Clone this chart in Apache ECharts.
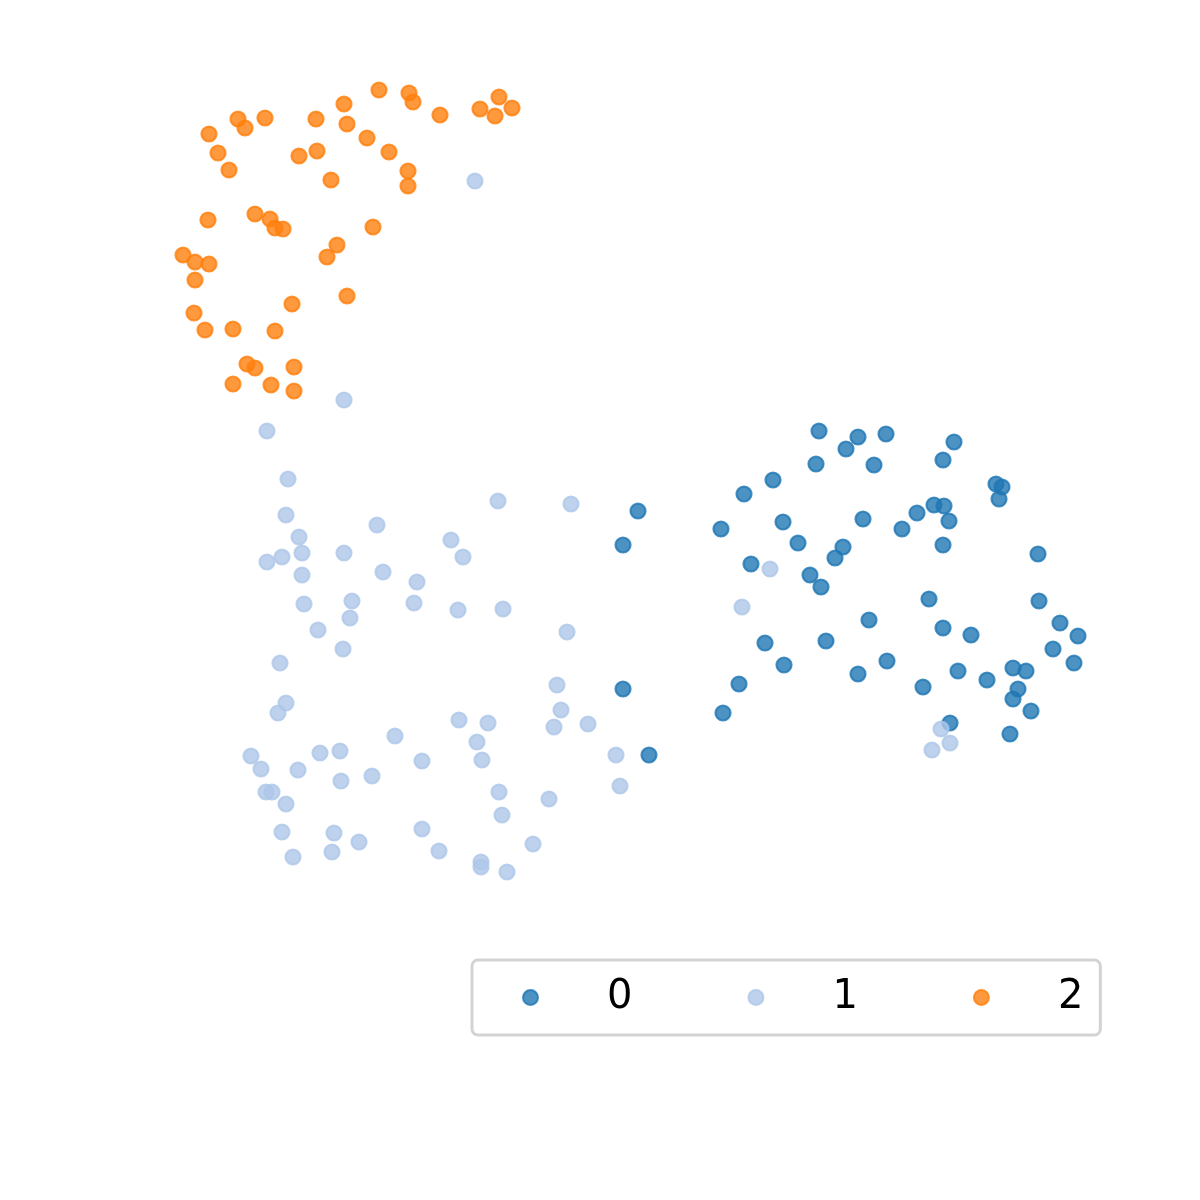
<!DOCTYPE html>
<html>
<head>
<meta charset="utf-8">
<script src="https://cdn.jsdelivr.net/npm/echarts@6/dist/echarts.min.js"></script>
<style>
  html, body { margin: 0; padding: 0; background: #fff; }
  #chart { width: 1200px; height: 1200px; }
</style>
</head>
<body>
<div id="chart"></div>
<script>
// cluster labels
var labels = ["0", "1", "2"];

// embedding coordinates [x, y] for each cluster
var cluster0 = [
  [0.7, -3.0], [-0.8, -6.4], [18.8, 5.0], [22.7, 4.4], [25.5, 4.7], [21.5, 3.2],
  [18.5, 1.7], [24.3, 1.6], [32.3, 3.9], [31.2, 2.1], [14.2, 0.1], [11.3, -1.3],
  [9.0, -4.8], [15.2, -4.1], [16.7, -6.2], [23.2, -3.8], [21.2, -6.6], [20.4, -7.7],
  [12.0, -8.3], [17.9, -9.4], [19.0, -10.6], [27.1, -4.8], [28.6, -3.2], [30.3, -2.4],
  [31.3, -2.5], [31.8, -4.0], [31.2, -6.4], [36.5, -0.3], [37.1, -0.6], [36.8, -1.8],
  [40.7, -7.3], [29.8, -11.8], [40.8, -12.0], [23.8, -13.9], [31.2, -14.7], [34.0, -15.4],
  [42.9, -14.2], [44.7, -15.5], [42.2, -16.8], [44.3, -18.2], [13.4, -16.2], [19.5, -16.0],
  [15.3, -18.4], [25.6, -18.0], [22.7, -19.3], [10.8, -20.3], [-0.8, -20.8], [32.7, -19.0],
  [35.6, -19.9], [29.2, -20.6], [38.2, -18.7], [39.5, -19.0], [38.7, -20.8], [38.2, -21.8],
  [40.0, -23.0], [9.2, -23.2], [31.9, -24.2], [37.9, -25.3], [1.8, -27.4]
];

var cluster1 = [
  [-15.6, 30.0], [-28.7, 8.1], [-36.4, 5.0], [-34.3, 0.2], [-34.5, -3.4], [-33.2, -5.6],
  [-32.9, -7.2], [-34.9, -7.6], [-36.4, -8.1], [-28.7, -7.2], [-32.9, -9.4], [-25.4, -4.4],
  [-18.0, -5.9], [-16.8, -7.6], [-13.3, -2.0], [-6.0, -2.3], [-24.8, -9.1], [-21.4, -10.1],
  [-32.7, -12.3], [-27.9, -12.0], [-28.1, -13.7], [-21.7, -12.2], [-17.3, -12.9], [-12.8, -12.8],
  [-31.3, -14.9], [-28.8, -16.8], [-6.4, -15.1], [-35.1, -18.2], [-34.5, -22.2], [-35.3, -23.2],
  [-7.4, -20.4], [-7.0, -22.9], [-7.7, -24.6], [-4.3, -24.3], [-17.2, -23.9], [-14.3, -24.2],
  [-15.4, -26.1], [-14.9, -27.9], [-23.6, -25.5], [-20.9, -28.0], [-31.1, -27.2], [-29.1, -27.0],
  [-38.0, -27.5], [-37.0, -28.8], [-33.3, -28.9], [-29.0, -30.0], [-25.9, -29.5], [-36.5, -31.1],
  [-35.9, -31.1], [-34.5, -32.3], [-13.2, -31.1], [-12.9, -33.4], [-8.2, -31.8], [-1.5, -27.4],
  [-1.1, -30.5], [-34.9, -35.1], [-29.7, -35.2], [-33.8, -37.6], [-29.9, -37.1], [-27.2, -36.1],
  [-20.9, -34.8], [-19.2, -37.0], [-15.0, -38.1], [-15.0, -38.6], [-12.4, -39.1], [-9.8, -36.3],
  [13.9, -8.8], [11.1, -12.6], [31.0, -24.8], [30.1, -26.9], [31.9, -26.2]
];

var cluster2 = [
  [-42.2, 34.7], [-39.3, 36.2], [-38.6, 35.3], [-36.6, 36.3], [-31.5, 36.2], [-28.7, 37.7],
  [-28.4, 35.7], [-25.2, 39.1], [-22.2, 38.8], [-21.8, 37.9], [-19.1, 36.6], [-15.1, 37.2],
  [-13.6, 36.5], [-13.2, 38.4], [-11.9, 37.3], [-41.3, 32.8], [-40.2, 31.1], [-33.2, 32.5],
  [-31.4, 33.0], [-26.4, 34.3], [-24.2, 32.9], [-22.3, 31.0], [-22.3, 29.5], [-30.0, 30.1],
  [-42.3, 26.1], [-37.6, 26.7], [-36.1, 26.2], [-35.6, 25.3], [-34.8, 25.2], [-25.8, 25.4],
  [-29.4, 23.6], [-30.4, 22.4], [-44.8, 22.6], [-43.6, 21.9], [-42.2, 21.7], [-43.6, 20.1],
  [-28.4, 18.5], [-33.9, 17.7], [-43.7, 16.8], [-42.6, 15.1], [-39.8, 15.2], [-35.6, 15.0],
  [-38.4, 11.7], [-37.6, 11.3], [-33.7, 11.4], [-39.8, 9.7], [-36.0, 9.6], [-33.7, 9.0]
];

// fill and edge drawn with their own alpha so the edge ring shows darker
var fills = ["rgba(31,119,180,0.8)", "rgba(174,199,232,0.8)", "rgba(255,127,14,0.8)"];
var edges = ["rgba(31,119,180,0.8)", "rgba(174,199,232,0.8)", "rgba(255,127,14,0.8)"];
var groups = [cluster0, cluster1, cluster2];

var chart = echarts.init(document.getElementById("chart"));

var series = groups.map(function (pts, i) {
  return {
    name: labels[i],
    type: "scatter",
    data: pts,
    symbol: "circle",
    symbolSize: 15,
    animation: false,
    itemStyle: {
      color: fills[i],
      borderColor: edges[i],
      borderWidth: 2.2,
      opacity: 1
    },
    emphasis: { disabled: true }
  };
});

var option = {
  backgroundColor: "#ffffff",
  animation: false,
  grid: { left: 0, right: 0, top: 0, bottom: 0 },
  xAxis: { type: "value", min: -63.1, max: 56.9, show: false },
  yAxis: { type: "value", min: -71.9, max: 48.1, show: false },
  legend: {
    data: labels,
    left: 472,
    top: 960,
    orient: "horizontal",
    icon: "circle",
    itemWidth: 15,
    itemHeight: 15,
    itemGap: 115,
    padding: [17.5, 17, 17.5, 50],
    backgroundColor: "#ffffff",
    borderColor: "#d3d3d3",
    borderWidth: 3,
    borderRadius: 6,
    selectedMode: false,
    textStyle: {
      fontFamily: "DejaVu Sans",
      fontSize: 40,
      color: "#000",
      lineHeight: 40,
      padding: [0, 0, 0, 64]
    }
  },
  series: series
};

chart.setOption(option);
</script>
</body>
</html>
